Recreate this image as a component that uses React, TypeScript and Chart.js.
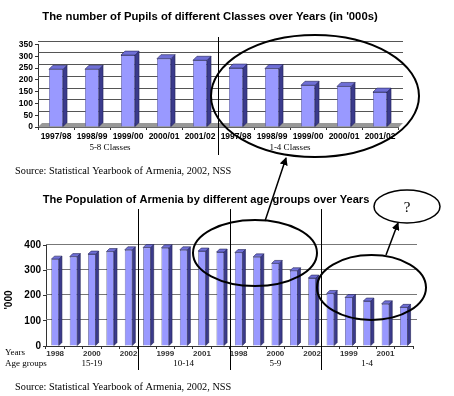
import React, { useEffect, useRef } from "react";
import { Chart, registerables } from "chart.js";
Chart.register(...registerables);

const SANS = '"Liberation Sans", Arial, sans-serif';
const SERIF = '"Liberation Serif", "Times New Roman", serif';

// ---- Top chart data ----
const pupilTitle = "The number of Pupils of different Classes over Years (in '000s)";
const pupilYears = ["1997/98", "1998/99", "1999/00", "2000/01", "2001/02"];
const classGroups = ["5-8 Classes", "1-4 Classes"];
const pupils5to8 = [245, 245, 305, 290, 283];
const pupils1to4 = [250, 248, 177, 172, 148];
const pupilMax = 350;
const pupilStep = 50;

// ---- Bottom chart data ----
const popTitle = "The Population of Armenia by different age groups over Years";
const popYears = ["1998", "1999", "2000", "2001", "2002"];
const ageGroups = ["15-19", "10-14", "5-9", "1-4"];
const pop15to19 = [344, 354, 364, 374, 381];
const pop10to14 = [390, 389, 381, 376, 372];
const pop5to9 = [370, 353, 327, 298, 269];
const pop1to4 = [208, 192, 178, 167, 153];
const popMax = 400;
const popStep = 100;
const popAxisTitle = "'000";
const rowLabels = ["Years", "Age groups"];

const sourceNote = "Source: Statistical Yearbook of Armenia, 2002, NSS";

const FRONT = "#9999ff";
const SIDE = "#3b3b8c";
const TOPC = "#6f6fd6";

function make3d(o: { depth: number; gridShift: number; gridColor: string; gridExtra: number; floor?: string }) {
  return {
    id: "bars3d",
    beforeDatasetsDraw(chart: any) {
      const { ctx, chartArea, scales } = chart;
      const ys = scales.y;
      ctx.save();
      const base = ys.getPixelForValue(0);
      if (o.floor) {
        ctx.fillStyle = o.floor;
        ctx.beginPath();
        ctx.moveTo(chartArea.left, base);
        ctx.lineTo(chartArea.left + o.depth, base - o.depth);
        ctx.lineTo(chartArea.right + o.gridExtra, base - o.depth);
        ctx.lineTo(chartArea.right + o.gridExtra - o.depth, base);
        ctx.closePath();
        ctx.fill();
      }
      ctx.strokeStyle = o.gridColor;
      ctx.lineWidth = 1;
      ys.ticks.forEach((t: any) => {
        if (t.value === 0) return;
        const py = Math.round(ys.getPixelForValue(t.value) - o.gridShift) + 0.5;
        ctx.beginPath();
        ctx.moveTo(chartArea.left, py);
        ctx.lineTo(chartArea.right + o.gridExtra, py);
        ctx.stroke();
      });
      ctx.restore();
    },
    afterDatasetsDraw(chart: any) {
      const ctx = chart.ctx;
      const d = o.depth;
      ctx.save();
      ctx.lineWidth = 0.6;
      ctx.strokeStyle = "#222255";
      chart.getDatasetMeta(0).data.forEach((el: any) => {
        const { x, y, base, width } = el.getProps(["x", "y", "base", "width"], true);
        const l = x - width / 2;
        const r = x + width / 2;
        ctx.fillStyle = SIDE;
        ctx.beginPath();
        ctx.moveTo(r, y);
        ctx.lineTo(r + d, y - d);
        ctx.lineTo(r + d, base - d);
        ctx.lineTo(r, base);
        ctx.closePath();
        ctx.fill();
        ctx.stroke();
        ctx.fillStyle = TOPC;
        ctx.beginPath();
        ctx.moveTo(l, y);
        ctx.lineTo(l + d, y - d);
        ctx.lineTo(r + d, y - d);
        ctx.lineTo(r, y);
        ctx.closePath();
        ctx.fill();
        ctx.stroke();
      });
      ctx.restore();
    },
  };
}

const topDecor = {
  id: "topDecor",
  afterDraw(chart: any) {
    const { ctx, scales } = chart;
    const xs = scales.x;
    ctx.save();
    ctx.fillStyle = "#000";
    ctx.textAlign = "center";
    ctx.textBaseline = "middle";
    ctx.font = `bold 11.3px ${SANS}`;
    ctx.fillText(pupilTitle, 210, 17);
    const n = pupilYears.length;
    const div = (xs.getPixelForValue(n - 1) + xs.getPixelForValue(n)) / 2;
    ctx.strokeStyle = "#000";
    ctx.lineWidth = 1;
    ctx.beginPath();
    ctx.moveTo(Math.round(div) + 0.5, 37);
    ctx.lineTo(Math.round(div) + 0.5, 155);
    ctx.stroke();
    ctx.font = `9px ${SERIF}`;
    classGroups.forEach((g, gi) => {
      const cx = (xs.getPixelForValue(gi * n + 1) + xs.getPixelForValue(gi * n + 2)) / 2;
      ctx.fillText(g, cx, 148);
    });
    ctx.textAlign = "left";
    ctx.font = `10.3px ${SERIF}`;
    ctx.fillText(sourceNote, 15, 171);
    ctx.restore();
  },
};

const bottomDecor = {
  id: "bottomDecor",
  afterDraw(chart: any) {
    const { ctx, scales } = chart;
    const xs = scales.x;
    ctx.save();
    ctx.fillStyle = "#000";
    ctx.textAlign = "center";
    ctx.textBaseline = "middle";
    ctx.font = `bold 11.1px ${SANS}`;
    ctx.fillText(popTitle, 206, 20);
    const n = popYears.length;
    ctx.strokeStyle = "#000";
    ctx.lineWidth = 1;
    for (let g = 1; g < ageGroups.length; g++) {
      const div = Math.round((xs.getPixelForValue(g * n - 1) + xs.getPixelForValue(g * n)) / 2) + 0.5;
      ctx.beginPath();
      ctx.moveTo(div, 29);
      ctx.lineTo(div, 190);
      ctx.stroke();
    }
    ctx.font = `9px ${SERIF}`;
    ageGroups.forEach((g, gi) => {
      const cx = xs.getPixelForValue(gi * n + 2);
      ctx.fillText(g, cx, 184);
    });
    ctx.textAlign = "left";
    ctx.fillText(rowLabels[0], 5, 173);
    ctx.fillText(rowLabels[1], 5, 184);
    ctx.font = `10.3px ${SERIF}`;
    ctx.fillText(sourceNote, 15, 207);
    ctx.save();
    ctx.translate(9, 120);
    ctx.rotate(-Math.PI / 2);
    ctx.textAlign = "center";
    ctx.font = `bold 10px ${SANS}`;
    ctx.fillText(popAxisTitle, 0, 0);
    ctx.restore();
    ctx.restore();
  },
};

export default function App() {
  const topRef = useRef<HTMLCanvasElement>(null);
  const botRef = useRef<HTMLCanvasElement>(null);

  useEffect(() => {
    const topLabels = [...pupilYears, ...pupilYears];
    const topData = [...pupils5to8, ...pupils1to4];
    const c1 = new Chart(topRef.current!, {
      type: "bar",
      data: {
        labels: topLabels,
        datasets: [
          {
            data: topData,
            backgroundColor: FRONT,
            borderColor: "#222255",
            borderWidth: 0.6,
            barPercentage: 0.39,
            categoryPercentage: 1,
          },
        ],
      },
      options: {
        responsive: false,
        animation: false,
        devicePixelRatio: 1,
        layout: { padding: { top: 44.5, left: 0, right: 56, bottom: 33 } },
        plugins: { legend: { display: false }, tooltip: { enabled: false }, title: { display: false } },
        scales: {
          x: {
            offset: true,
            afterFit: (s: any) => {
              s.height = 20;
            },
            grid: { display: true, drawOnChartArea: false, offset: true, tickLength: 3, color: "#333" },
            border: { color: "#666", width: 1 },
            ticks: {
              autoSkip: false,
              maxRotation: 0,
              padding: 2,
              color: "#000",
              font: { family: SANS, size: 8.5, weight: "bold" },
            },
          },
          y: {
            min: 0,
            max: pupilMax,
            afterFit: (s: any) => {
              s.width = 38;
            },
            ticks: { autoSkip: false, stepSize: pupilStep, padding: 2, color: "#000", font: { family: SANS, size: 8.5, weight: "bold" } },
            grid: { drawOnChartArea: false, tickLength: 3, color: "#333" },
            border: { color: "#333", width: 1 },
          },
        },
      } as any,
      plugins: [make3d({ depth: 4, gridShift: 4, gridColor: "#555", gridExtra: 5, floor: "#999" }), topDecor],
    });

    const botLabels = ageGroups.flatMap(() => popYears);
    const botData = [...pop15to19, ...pop10to14, ...pop5to9, ...pop1to4];
    const c2 = new Chart(botRef.current!, {
      type: "bar",
      data: {
        labels: botLabels,
        datasets: [
          {
            data: botData,
            backgroundColor: FRONT,
            borderColor: "#222255",
            borderWidth: 0.6,
            barPercentage: 0.41,
            categoryPercentage: 1,
          },
        ],
      },
      options: {
        responsive: false,
        animation: false,
        devicePixelRatio: 1,
        layout: { padding: { top: 65, left: 0, right: 41, bottom: 30 } },
        plugins: { legend: { display: false }, tooltip: { enabled: false }, title: { display: false } },
        scales: {
          x: {
            offset: true,
            afterFit: (s: any) => {
              s.height = 20;
            },
            grid: { display: true, drawOnChartArea: false, offset: true, tickLength: 3, color: "#333" },
            border: { color: "#333", width: 1 },
            ticks: {
              autoSkip: false,
              maxRotation: 0,
              padding: 0,
              color: "#333",
              font: { family: SANS, size: 8, weight: "bold" },
              callback: function (this: any, v: any, i: number) {
                return i % 2 === 0 ? this.getLabelForValue(v) : "";
              },
            },
          },
          y: {
            min: 0,
            max: popMax,
            afterFit: (s: any) => {
              s.width = 46;
            },
            ticks: { autoSkip: false, stepSize: popStep, padding: 2, color: "#000", font: { family: SANS, size: 10, weight: "bold" } },
            grid: { drawOnChartArea: false, tickLength: 3, color: "#333" },
            border: { color: "#333", width: 1 },
          },
        },
      } as any,
      plugins: [make3d({ depth: 3, gridShift: 1.5, gridColor: "#777", gridExtra: 4 }), bottomDecor],
    });

    return () => {
      c1.destroy();
      c2.destroy();
    };
  }, []);

  return (
    <div style={{ position: "absolute", left: 0, top: 0, width: 454, height: 396, background: "#fff" }}>
      <canvas ref={topRef} width={454} height={180} style={{ position: "absolute", left: 0, top: 0 }} />
      <canvas ref={botRef} width={454} height={216} style={{ position: "absolute", left: 0, top: 180 }} />
      <svg width={454} height={396} style={{ position: "absolute", left: 0, top: 0, pointerEvents: "none" }}>
        <defs>
          <marker id="ah" markerWidth="8" markerHeight="8" refX="7" refY="4" orient="auto" markerUnits="userSpaceOnUse">
            <path d="M0,0 L8,4 L0,8 z" fill="#000" />
          </marker>
        </defs>
        <ellipse cx={315} cy={96} rx={104} ry={61} fill="none" stroke="#000" strokeWidth={2} />
        <ellipse cx={255} cy={253} rx={62} ry={33} fill="none" stroke="#000" strokeWidth={2} />
        <ellipse cx={371.5} cy={287.5} rx={54.5} ry={32.5} fill="none" stroke="#000" strokeWidth={2} />
        <ellipse cx={407} cy={206.5} rx={33} ry={16.5} fill="none" stroke="#000" strokeWidth={1.5} />
        <line x1={265} y1={221} x2={286} y2={158} stroke="#000" strokeWidth={1.5} markerEnd="url(#ah)" />
        <line x1={386} y1={255} x2={398} y2={223} stroke="#000" strokeWidth={1.5} markerEnd="url(#ah)" />
        <text x={407} y={212} textAnchor="middle" fontFamily={SERIF} fontSize={15} fill="#000">
          ?
        </text>
      </svg>
    </div>
  );
}
